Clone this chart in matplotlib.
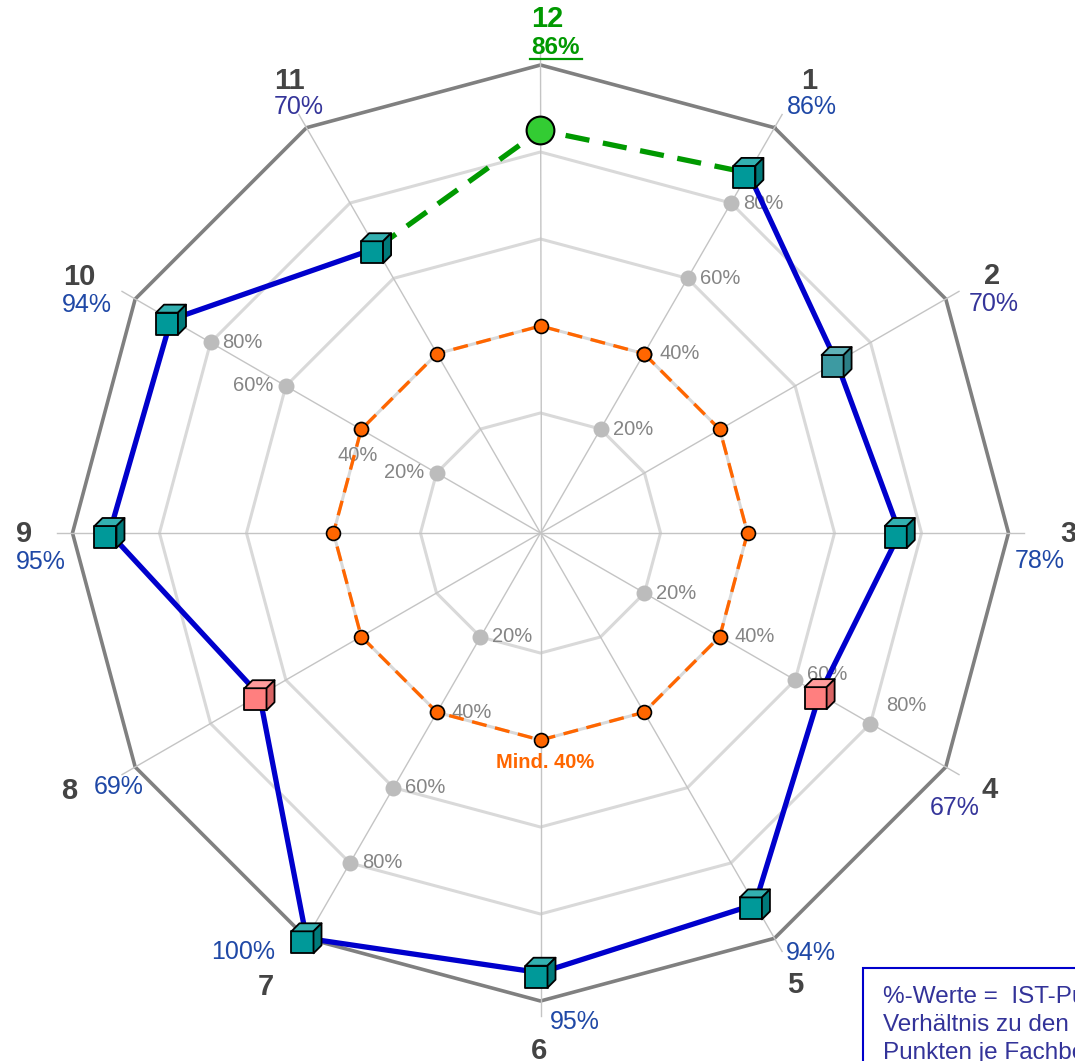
import numpy as np
import matplotlib
matplotlib.use("Agg")
import matplotlib.pyplot as plt
from matplotlib.path import Path
from matplotlib.markers import MarkerStyle
from matplotlib.patches import Rectangle
from matplotlib.lines import Line2D

plt.rcParams['font.family'] = ['Liberation Sans', 'DejaVu Sans']

# data
axis_names = ['1', '2', '3', '4', '5', '6', '7', '8', '9', '10', '11', '12']
pct_labels = ['86%', '70%', '78%', '67%', '94%', '95%', '100%', '69%', '95%', '94%', '70%', '86%']
ist_values = [88, 71, 75, 66.5, 91, 93.5, 100, 67, 91.5, 90.5, 68, 85]   # where the marks sit
cube_kind = ['teal', 'teal2', 'teal', 'pink', 'teal', 'teal', 'teal', 'pink', 'teal', 'teal', 'teal']
min_value = 40
ring_values = [20, 40, 60, 80]
outer_value = 100
tick_axes = ['1', '4', '7', '10']

r0 = -7.6   # value at the centre
theta = np.deg2rad(np.arange(1, 13) * 30.0)
theta_closed = np.append(theta, theta[0])

fig = plt.figure(figsize=(10.75, 10.61), dpi=100)
ax = fig.add_axes([72.5 / 1075, 60 / 1061, 936 / 1075, 936 / 1061], projection='polar')
ax.set_theta_zero_location('N')
ax.set_theta_direction(-1)
ax.set_ylim(r0, outer_value)
ax.set_axis_off()

# grid polygons and spokes
for v in ring_values:
    ax.plot(theta_closed, [v] * 13, color='#d9d9d9', lw=2.2, zorder=1, clip_on=False)
ax.plot(theta_closed, [outer_value] * 13, color='#808080', lw=2.6, zorder=1.2, clip_on=False)
for t in theta:
    ax.plot([t, t], [r0, 103.5], color='#c4c4c4', lw=1.0, zorder=1.5, clip_on=False)

# radial tick dots and labels
tick_style = {
    ('10', 60): ((-12, 0), 'right'),
    ('10', 40): ((-4, -26), 'center'),
    ('10', 20): ((-12, 0), 'right'),
    ('4', 80): ((16, 18), 'left'),
    ('4', 60): ((12, 6), 'left'),
}
for name in tick_axes:
    t = theta[axis_names.index(name)]
    ax.scatter([t] * 4, ring_values, s=110, color='#bcbcbc', zorder=2.5, clip_on=False)
    for v in ring_values:
        off, ha = tick_style.get((name, v), ((15 if v == 40 else 12, 0), 'left'))
        ax.annotate(f'{v}%', xy=(t, v), xytext=off, textcoords='offset pixels',
                    ha=ha, va='center', fontsize=14.5, color='#858585', zorder=2.6,
                    annotation_clip=False)

# minimum line
ax.plot(theta_closed, [min_value] * 13, color='#ff6600', lw=2.4, dashes=(4.5, 2.6),
        marker='o', markersize=10, markerfacecolor='#ff6600', markeredgecolor='black',
        markeredgewidth=1.2, zorder=3, clip_on=False)
ax.annotate(f'Mind. {min_value}%', xy=(np.pi, min_value), xytext=(5, -22),
            textcoords='offset pixels', ha='center', va='center', fontsize=14.5,
            fontweight='bold', color='#ff6600', zorder=3.5)

# IST values
ax.plot(theta[:11], ist_values[:11], color='#0000cc', lw=3.8, zorder=4, clip_on=False)
ax.plot([theta[10], theta[11], theta[0]], [ist_values[10], ist_values[11], ist_values[0]],
        color='#009900', lw=3.8, dashes=(4.6, 2.6), zorder=4, clip_on=False)
ax.plot([theta[11]], [ist_values[11]], marker='o', markersize=20, markerfacecolor='#33cc33',
        markeredgecolor='black', markeredgewidth=1.5, zorder=5, clip_on=False)

# cube markers
h, fr, dp = 15, 22, 8
x1 = -h + fr
faces = {
    'front': [(-h, -h), (x1, -h), (x1, x1), (-h, x1), (-h, -h)],
    'top': [(-h, x1), (x1, x1), (h, h), (-h + dp, h), (-h, x1)],
    'side': [(x1, -h), (h, -h + dp), (h, h), (x1, x1), (x1, -h)],
}
cube_colors = {
    'teal': {'front': '#009999', 'top': '#33b0b0', 'side': '#007a7a'},
    'teal2': {'front': '#3d9aa2', 'top': '#5fb2b8', 'side': '#2c7f86'},
    'pink': {'front': '#ff7f7f', 'top': '#ff9c9c', 'side': '#d86464'},
}
for face, verts in faces.items():
    codes = [Path.MOVETO] + [Path.LINETO] * 3 + [Path.CLOSEPOLY]
    mk = MarkerStyle(Path(verts, codes))
    cols = [cube_colors[k][face] for k in cube_kind]
    ax.scatter(theta[:11], ist_values[:11], marker=mk, s=467, c=cols,
               edgecolors='black', linewidths=1.3, zorder=5, clip_on=False)

# axis labels
num_off = [(34.5, -46.7), (46, -23), (59.5, 1), (44, 23), (20.5, 47), (-1.5, 50),
           (-40.5, 49), (-66, 24), (-48.5, 1), (-56, -22), (-17.5, -46.7), (6.5, -46)]
pct_off = [(37.5, -20.7), (48, 5), (31.5, 28), (9, 41), (36.5, 15), (34.5, 21),
           (-63.5, 14), (-17, 20), (-31.5, 29), (-48, 6), (-7.5, -20.7), (15.5, -18)]
pct_colors = ['#1f48a6', '#35359a', '#1f48a6', '#35359a', '#1f48a6', '#1f48a6',
              '#1f48a6', '#1f48a6', '#1f48a6', '#1f48a6', '#35359a', '#009900']
for i, name in enumerate(axis_names):
    last = i == 11
    ax.annotate(name, xy=(theta[i], outer_value), xytext=(num_off[i][0], -num_off[i][1]),
                textcoords='offset pixels', ha='center', va='center',
                fontsize=21, fontweight='bold',
                color='#009900' if last else '#444444', annotation_clip=False)
    ax.annotate(pct_labels[i], xy=(theta[i], outer_value), xytext=(pct_off[i][0], -pct_off[i][1]),
                textcoords='offset pixels', ha='center', va='center',
                fontsize=17.5 if last else 18, fontweight='bold' if last else 'normal',
                color=pct_colors[i], annotation_clip=False)

# underline under the green 12 value
px, py = ax.transData.transform((theta[11], outer_value))
fig.add_artist(Line2D([px - 10.5, px + 41.5], [py + 6, py + 6], transform=None,
                      color='#009900', lw=1.6))

# note box, cut by the right and bottom edges
fig.patches.append(Rectangle((863 / 1075, -0.1), 0.3, (1061 - 968) / 1061 + 0.1,
                             transform=fig.transFigure, facecolor='white',
                             edgecolor='#0000cc', lw=1.5, zorder=10))
fig.text(883 / 1075, 1 - 986 / 1061,
         '%-Werte =  IST-Punkte im\nVerhältnis zu den\nPunkten je Fachbereich',
         ha='left', va='top', fontsize=17.5, color='#333399', linespacing=1.35, zorder=11)

fig.savefig('out.png', dpi=100)
